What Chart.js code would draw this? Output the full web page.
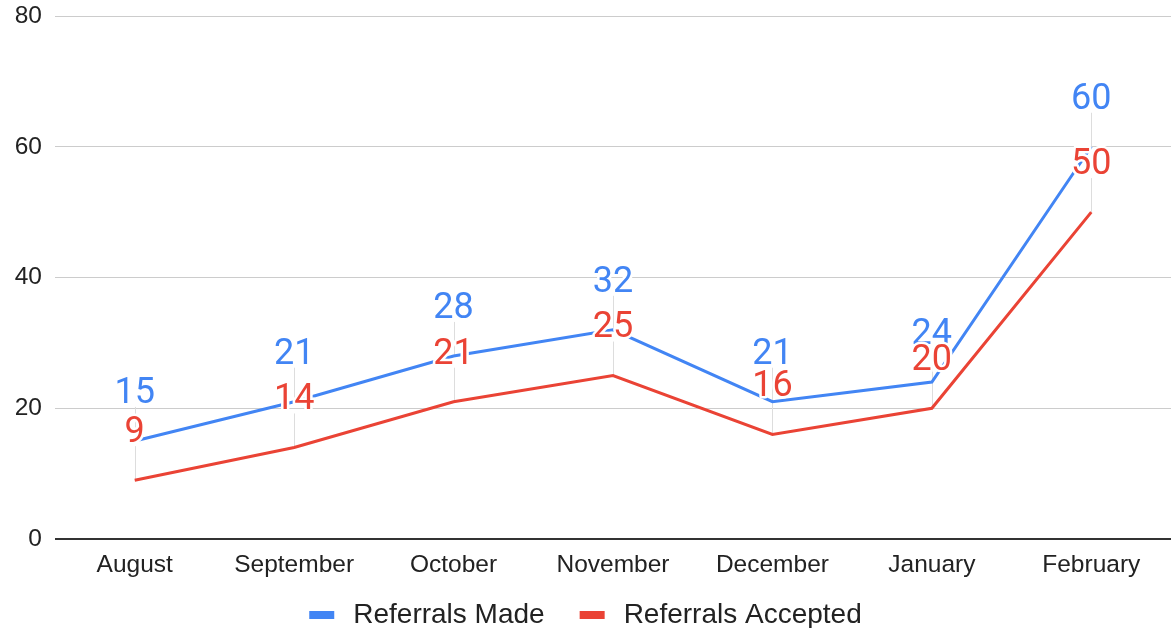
<!DOCTYPE html>
<html>
<head>
<meta charset="utf-8">
<script src="https://cdn.jsdelivr.net/npm/chart.js@4/dist/chart.umd.min.js"></script>
<style>
  html, body { margin: 0; padding: 0; background: #fff; }
  #wrap { width: 1171px; height: 628px; position: relative; }
</style>
</head>
<body>
<div id="wrap"><canvas id="c" width="1171" height="628"></canvas></div>
<script>
const months = ['August', 'September', 'October', 'November', 'December', 'January', 'February'];
const referralsMade = [15, 21, 28, 32, 21, 24, 60];
const referralsAccepted = [9, 14, 21, 25, 16, 20, 50];
const seriesNames = ['Referrals Made', 'Referrals Accepted'];
const seriesColors = ['#4285F4', '#EA4335'];
const yMin = 0, yMax = 80, yStep = 20;

const AXIS_FONT = "'Liberation Sans', Arial, sans-serif";
const LABEL_FONT = "Roboto, 'Liberation Sans', sans-serif";

const leaderPlugin = {
  id: 'leaders',
  beforeDatasetsDraw(chart) {
    const ctx = chart.ctx;
    ctx.save();
    ctx.strokeStyle = '#dddddd';
    ctx.lineWidth = 1;
    chart.data.datasets.forEach((ds, i) => {
      const meta = chart.getDatasetMeta(i);
      meta.data.forEach((pt) => {
        const x = Math.round(pt.x) + 0.5;
        ctx.beginPath();
        ctx.moveTo(x, pt.y - 51 + 17);
        ctx.lineTo(x, pt.y);
        ctx.stroke();
      });
    });
    ctx.restore();
  }
};

const labelPlugin = {
  id: 'valueLabels',
  afterDatasetsDraw(chart) {
    const ctx = chart.ctx;
    const fs = 36;
    ctx.save();
    ctx.font = fs + 'px ' + LABEL_FONT;
    ctx.textAlign = 'center';
    ctx.textBaseline = 'alphabetic';
    ctx.lineJoin = 'round';
    chart.data.datasets.forEach((ds, i) => {
      const meta = chart.getDatasetMeta(i);
      meta.data.forEach((pt, j) => {
        const txt = String(ds.data[j]);
        const y = pt.y - 51 + 0.711 * fs / 2;
        ctx.strokeStyle = '#ffffff';
        ctx.lineWidth = 5;
        ctx.strokeText(txt, pt.x, y);
        ctx.fillStyle = ds.borderColor;
        ctx.fillText(txt, pt.x, y);
      });
    });
    ctx.restore();
  }
};

const legendPlugin = {
  id: 'customLegend',
  afterDraw(chart) {
    const ctx = chart.ctx;
    const fs = 28;
    const boxW = 25, boxH = 8, gapText = 19, gapItem = 35;
    ctx.save();
    ctx.font = fs + 'px ' + AXIS_FONT;
    const items = chart.data.datasets.map(ds => ({
      label: ds.label, color: ds.borderColor, w: ctx.measureText(ds.label).width
    }));
    let total = 0;
    items.forEach((it, k) => { total += boxW + gapText + it.w + (k < items.length - 1 ? gapItem : 0); });
    let x = chart.width / 2 - total / 2;
    const midY = 612.5;
    items.forEach((it) => {
      ctx.fillStyle = it.color;
      ctx.fillRect(x, 615 - boxH / 2, boxW, boxH);
      x += boxW + gapText;
      ctx.fillStyle = '#222222';
      ctx.textAlign = 'left';
      ctx.textBaseline = 'alphabetic';
      ctx.fillText(it.label, x, midY + 0.716 * fs / 2);
      x += it.w + gapItem;
    });
    ctx.restore();
  }
};

new Chart(document.getElementById('c'), {
  type: 'line',
  data: {
    labels: months,
    datasets: [
      { label: seriesNames[0], data: referralsMade, borderColor: seriesColors[0], backgroundColor: seriesColors[0],
        borderWidth: 3, pointRadius: 0, pointHoverRadius: 0, tension: 0, fill: false },
      { label: seriesNames[1], data: referralsAccepted, borderColor: seriesColors[1], backgroundColor: seriesColors[1],
        borderWidth: 3, pointRadius: 0, pointHoverRadius: 0, tension: 0, fill: false }
    ]
  },
  options: {
    responsive: false,
    animation: false,
    devicePixelRatio: 1,
    layout: { padding: { top: 16, right: 0, bottom: 40, left: 0 } },
    plugins: {
      legend: { display: false },
      tooltip: { enabled: false }
    },
    scales: {
      x: {
        offset: true,
        grid: { display: false, drawTicks: false },
        border: { display: false },
        ticks: { color: '#222222', font: { family: AXIS_FONT, size: 24.5 }, padding: 12, maxRotation: 0, autoSkip: false },
        afterFit(scale) { scale.height = 49; scale.paddingLeft = 0; scale.paddingRight = 0; }
      },
      y: {
        min: yMin, max: yMax,
        grid: {
          drawTicks: false,
          color: (c) => c.tick && c.tick.value === 0 ? '#333333' : '#cccccc',
          lineWidth: (c) => c.tick && c.tick.value === 0 ? 2 : 1
        },
        border: { display: false },
        ticks: { stepSize: yStep, color: '#222222', font: { family: AXIS_FONT, size: 24.5 }, padding: 13 },
        afterFit(scale) { scale.width = 55; scale.paddingTop = 0; scale.paddingBottom = 0; }
      }
    }
  },
  plugins: [leaderPlugin, labelPlugin, legendPlugin]
});
</script>
</body>
</html>
